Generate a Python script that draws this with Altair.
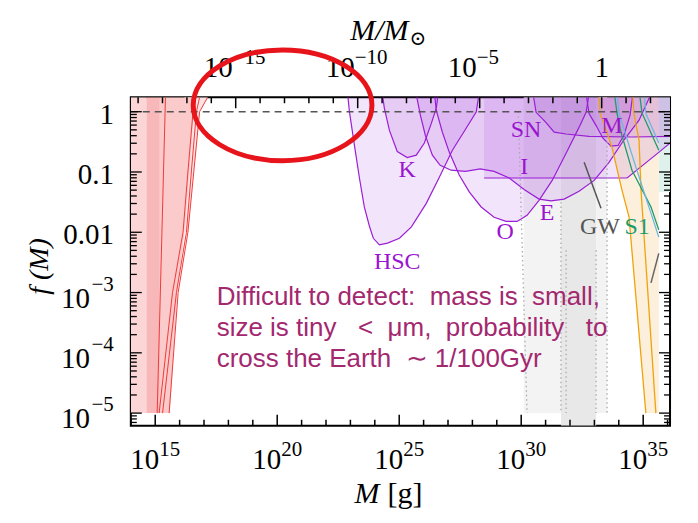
import altair as alt
import pandas as pd

MSUN = 1.989e33
X_LO, X_HI = 14.0, 36.1
Y_LO, Y_HI = -5.21, 0.24
W, H = 540, 329
SERIF = "Liberation Serif"

# ---------- data (log10 M [g], log10 f) ----------
hsc_lm = [22.90, 22.96, 23.17, 23.37, 23.57, 23.78, 23.94, 24.19, 24.52, 25.01, 25.50, 26.11, 26.64, 27.18, 27.75, 28.16, 28.25]
hsc_lf = [0.24, 0.0, -0.57, -1.10, -1.58, -1.90, -2.10, -2.21, -2.18, -2.10, -1.91, -1.52, -1.09, -0.64, -0.27, 0.0, 0.24]
k_lm = [24.33, 24.39, 24.60, 24.92, 25.33, 25.70, 26.03, 26.32, 26.52, 26.58]
k_lf = [0.24, 0.06, -0.31, -0.66, -0.76, -0.72, -0.52, -0.19, 0.06, 0.24]
o_lm = [26.46, 26.52, 26.77, 27.05, 27.46, 27.87, 28.36, 28.89, 29.38, 29.83, 30.24, 30.73, 31.27, 31.84, 32.37, 32.66, 32.76]
o_lf = [0.24, 0.02, -0.34, -0.67, -1.05, -1.33, -1.58, -1.75, -1.82, -1.82, -1.72, -1.47, -1.14, -0.69, -0.26, -0.01, 0.24]
e_lm = [25.72, 25.87, 26.07, 26.36, 26.68, 27.13, 27.71, 28.32, 28.89, 29.51, 30.12, 30.73, 31.22, 31.76, 32.37, 32.99, 33.60, 34.21, 34.83, 35.26]
e_lf = [0.24, -0.06, -0.39, -0.72, -0.89, -0.97, -0.99, -0.95, -0.99, -1.10, -1.29, -1.45, -1.48, -1.45, -1.32, -1.14, -0.84, -0.47, -0.14, 0.24]
i_lm = [28.48, 34.34, 35.65, 36.13]
i_lf = [-1.10, -1.10, -0.67, -0.51]
sn_lm = [30.51, 30.61, 31.02, 31.35, 31.84, 32.78, 34.54, 36.13]
sn_lf = [0.24, -0.01, -0.18, -0.34, -0.37, -0.41, -0.42, -0.41]
m_lm = [32.68, 32.78, 33.07, 33.35, 33.68, 33.97, 34.21, 34.46, 34.56]
m_lf = [0.24, -0.03, -0.23, -0.44, -0.57, -0.56, -0.39, -0.06, 0.24]

red_lf = [-5.0, -3.0, -2.0, -1.0, 0.0, 0.24]
red1_lm = [15.08, 15.42]
red1_lf = [-5.0, 0.24]
red2_lm = [15.16, 15.71, 16.14, 16.34, 16.55, 16.66]
red3_lm = [15.30, 15.87, 16.28, 16.48, 16.69, 16.82]
red4_lm = [15.57, 15.94, 16.34, 16.58, 16.82, 17.15]
# boundary of the medium pink region (log M, log f), left edge at 15.19
pinkC_lm = [15.19, 15.60, 15.90, 16.20, 16.40, 16.58, 16.66]
pinkC_lf = [-5.0, -5.0, -3.0, -2.0, -1.0, 0.0, 0.24]
pinkD_lm = [16.20, 16.34, 16.58, 16.82, 17.15]
pinkD_lf = [-2.0, -2.0, -1.0, 0.0, 0.24]

gw_lm, gw_lf = [32.58, 33.27], [-0.84, -1.60]
dg_lm, dg_lf = [35.64, 35.32], [-2.35, -2.84]
or1_lm = [33.19, 33.23, 33.72, 34.13, 34.42, 35.11]
or1_lf = [0.24, -0.02, -0.59, -1.30, -1.75, -5.0]
or2_lm = [34.58, 34.62, 34.83, 34.91, 35.52]
or2_lf = [0.24, -0.03, -0.47, -1.30, -5.0]
beige_edge = 35.64
gr1_lm = [33.84, 33.93, 34.09, 34.54, 35.32, 35.64]
gr1_lf = [0.24, -0.03, -0.34, -0.97, -1.58, -1.96]
gr2_lm, gr2_lf = [34.87, 34.95, 35.64], [0.24, -0.02, -0.64]
bl1_lm, bl1_lf = [33.95, 34.01, 34.70, 35.64], [0.24, -0.03, -0.92, -2.08]
bl2_lm, bl2_lf = [35.05, 35.11, 35.64], [0.24, -0.03, -0.52]

dot_lm = [[29.88, 30.24], [31.63, 31.63], [31.84, 31.84], [33.07, 33.07], [33.52, 33.52]]
dot_lf = [[0.0, -5.0], [-1.5, -5.0], [-2.3, -5.0], [-2.3, -5.0], [-0.42, -5.0]]

# rect bands: (x1, x2, y1, y2, colour) in log10
bands = [
    (14.0, 14.64, -5.0, 0.24, "#fcd6d6"),
    (14.64, 15.19, -5.0, 0.24, "#f8b8b9"),
    (30.1, 31.63, -5.0, 0.24, "#f3f3f3"),
    (31.63, 33.07, -5.21, 0.24, "#e8e8e8"),
    (33.07, 33.52, -5.0, 0.24, "#f3f3f3"),
    (35.64, 36.1, -1.33, 0.24, "#def2eb"),
]

labels = [("HSC", 24.92, -2.49, "#9a14d0"), ("K", 25.33, -0.97, "#9a14d0"),
          ("O", 29.34, -2.0, "#9a14d0"), ("I", 30.12, -0.92, "#9a14d0"),
          ("SN", 30.20, -0.31, "#9a14d0"), ("E", 31.06, -1.68, "#9a14d0"),
          ("M", 33.72, -0.23, "#9a14d0"), ("GW", 33.23, -1.91, "#555555"),
          ("S1", 34.75, -1.91, "#1e9b6e")]

NB = "\u00a0"
note_lines = ["Difficult to detect:" + NB * 2 + "mass" + NB + "is" + NB * 2 + "small,",
              "size is tiny" + NB * 3 + "<" + NB * 2 + "μm," + NB * 2 + "probability" + NB * 3 + "to",
              "cross the Earth" + NB * 2 + "∼" + NB + "1/100Gyr"]
note_lm = 17.52
note_lf = [-3.21, -3.72, -4.24]

xbot_ticks = list(range(14, 37))
xtop_ticks = list(range(-19, 3))
xbot_labels = [15, 20, 25, 30, 35]
xtop_labels = [-15, -10, -5]
y_major = [-5, -4, -3, -2, -1, 0]
y_labels_plain = [(0, "1"), (-1, "0.1"), (-2, "0.01")]
y_labels_pow = [-3, -4, -5]

# ---------- helpers ----------
xs = alt.Scale(type="log", domain=[10 ** X_LO, 10 ** X_HI], nice=False)
ys = alt.Scale(type="log", domain=[10 ** Y_LO, 10 ** Y_HI], nice=False)


def X(f="M"):
    return alt.X(f"{f}:Q", scale=xs, axis=None, stack=None)


def Y(f="f"):
    return alt.Y(f"{f}:Q", scale=ys, axis=None, stack=None)


def cdf(name, lm, lf, **extra):
    d = pd.DataFrame({"name": name, "i": range(len(lm)),
                      "M": [10 ** v for v in lm], "f": [10 ** v for v in lf],
                      "top": 10 ** Y_HI})
    for k, v in extra.items():
        d[k] = v
    return d


def sup(n):
    return str(n).replace("-", "\u2212")


layers = []

# bands
bdf = pd.DataFrame([{"x1": 10 ** a, "x2": 10 ** b, "y1": 10 ** c, "y2": 10 ** d, "c": col}
                    for a, b, c, d, col in bands])
layers.append(alt.Chart(bdf).mark_rect(clip=True).encode(
    x=X("x1"), x2="x2", y=Y("y1"), y2="y2", color=alt.Color("c:N", scale=None)))

# filled regions bounded above by the top of the plot
fills = pd.concat([
    cdf("pD", pinkD_lm, pinkD_lf, c="#fde4e4"),
    cdf("pC", pinkC_lm, pinkC_lf, c="#fbcaca"),
    cdf("bg", or1_lm + [beige_edge], or1_lf + [-5.0], c="#fcefdb"),
])
layers.append(alt.Chart(fills).mark_area(orient="vertical", clip=True).encode(
    x=X("M"), y=Y("f"), y2="top:Q", detail="name:N",
    color=alt.Color("c:N", scale=None)))

# purple areas
purple = pd.concat([cdf(n, a, b) for n, a, b in [
    ("hsc", hsc_lm, hsc_lf), ("k", k_lm, k_lf), ("o", o_lm, o_lf), ("e", e_lm, e_lf),
    ("i", i_lm, i_lf), ("sn", sn_lm, sn_lf), ("m", m_lm, m_lf)]])
layers.append(alt.Chart(purple).mark_area(orient="vertical", clip=True, color="#9b30d8",
                                          fillOpacity=0.13).encode(
    x=X("M"), y=Y("f"), y2="top:Q", detail="name:N"))

# solid lines
PUR = "#9a1ed6"
lines = pd.concat([
    cdf("hscL", hsc_lm, hsc_lf, c=PUR, w=1.2),
    cdf("kL", k_lm, k_lf, c=PUR, w=1.2),
    cdf("oL", o_lm, o_lf, c=PUR, w=1.2),
    cdf("eL", e_lm, e_lf, c=PUR, w=1.2),
    cdf("iL", i_lm, i_lf, c=PUR, w=1.2),
    cdf("snL", sn_lm, sn_lf, c=PUR, w=1.2),
    cdf("mL", m_lm, m_lf, c=PUR, w=1.2),
    cdf("r1", red1_lm, red1_lf, c="#f03a3a", w=1.0),
    cdf("r2", red2_lm, red_lf, c="#f03a3a", w=1.0),
    cdf("r3", red3_lm, red_lf, c="#f03a3a", w=1.0),
    cdf("r4", red4_lm, red_lf, c="#f03a3a", w=1.0),
    cdf("gw", gw_lm, gw_lf, c="#555555", w=1.5),
    cdf("dg", dg_lm, dg_lf, c="#666666", w=1.5),
    cdf("or1", or1_lm, or1_lf, c="#f0a30a", w=1.3),
    cdf("or2", or2_lm, or2_lf, c="#f0a30a", w=1.3),
    cdf("gr1", gr1_lm, gr1_lf, c="#1e9b6e", w=1.3),
    cdf("gr2", gr2_lm, gr2_lf, c="#1e9b6e", w=1.3),
    cdf("bl1", bl1_lm, bl1_lf, c="#6bb8e2", w=1.3),
    cdf("bl2", bl2_lm, bl2_lf, c="#6bb8e2", w=1.3),
])
layers.append(alt.Chart(lines).mark_line(clip=True).encode(
    x=X("M"), y=Y("f"), detail="name:N", order="i:Q",
    color=alt.Color("c:N", scale=None), strokeWidth=alt.StrokeWidth("w:Q", scale=None)))

# dotted lines
dots = pd.concat([cdf(f"d{j}", a, b) for j, (a, b) in enumerate(zip(dot_lm, dot_lf))])
layers.append(alt.Chart(dots).mark_line(clip=True, color="#aaaaaa", strokeWidth=1.3,
                                        strokeDash=[1.5, 3]).encode(
    x=X("M"), y=Y("f"), detail="name:N", order="i:Q"))

# dashed f = 1
dash = cdf("dash", [X_LO, X_HI], [0, 0])
layers.append(alt.Chart(dash).mark_line(clip=True, color="#555555", strokeWidth=1.5,
                                        strokeDash=[7, 5]).encode(x=X("M"), y=Y("f")))

# curve labels
ldf = pd.DataFrame([{"t": t, "M": 10 ** a, "f": 10 ** b, "c": c} for t, a, b, c in labels])
layers.append(alt.Chart(ldf).mark_text(font=SERIF, fontSize=24, baseline="middle").encode(
    x=X("M"), y=Y("f"), text="t:N", color=alt.Color("c:N", scale=None)))


# ---------- ticks ----------
def xticks(vals, at_top):
    out = []
    for major in (True, False):
        sel = [v for v in vals if (v[1] % 5 == 0) == major]
        if not sel:
            continue
        d = pd.DataFrame({"M": [v[0] for v in sel]})
        ln = 11 if major else 6
        if at_top:
            enc = dict(y=alt.value(0), y2=alt.value(ln))
        else:
            enc = dict(y=alt.value(H), y2=alt.value(H - ln))
        out.append(alt.Chart(d).mark_rule(color="black", strokeWidth=1.5).encode(x=X("M"), **enc))
    return out


layers += xticks([(10 ** k, k) for k in xbot_ticks], False)
layers += xticks([(MSUN * 10 ** k, k) for k in xtop_ticks], True)

ymaj = pd.DataFrame({"f": [10 ** k for k in y_major]})
ymin_vals = []
for k in range(-6, 1):
    for m in range(2, 10):
        v = m * 10 ** k
        if 10 ** Y_LO <= v <= 10 ** Y_HI:
            ymin_vals.append(v)
ymin = pd.DataFrame({"f": ymin_vals})
for d, ln in ((ymaj, 11), (ymin, 6)):
    layers.append(alt.Chart(d).mark_rule(color="black", strokeWidth=1.3).encode(
        y=Y("f"), x=alt.value(0), x2=alt.value(ln)))
    layers.append(alt.Chart(d).mark_rule(color="black", strokeWidth=1.3).encode(
        y=Y("f"), x=alt.value(W), x2=alt.value(W - ln)))

# ---------- tick labels ----------
BASE, EXP = 29, 21
bl = pd.DataFrame({"M": [10 ** k for k in xbot_labels], "e": [sup(k) for k in xbot_labels]})
layers.append(alt.Chart(bl).mark_text(font=SERIF, fontSize=BASE, align="right", dx=4,
                                      baseline="alphabetic", color="black").encode(
    x=X("M"), y=alt.value(H + 43), text=alt.value("10")))
layers.append(alt.Chart(bl).mark_text(font=SERIF, fontSize=EXP, align="left", dx=4,
                                      baseline="alphabetic", color="black").encode(
    x=X("M"), y=alt.value(H + 30), text="e:N"))

tl = pd.DataFrame({"M": [MSUN * 10 ** k for k in xtop_labels], "e": [sup(k) for k in xtop_labels]})
layers.append(alt.Chart(tl).mark_text(font=SERIF, fontSize=BASE, align="right", dx=-3,
                                      baseline="alphabetic", color="black").encode(
    x=X("M"), y=alt.value(-20), text=alt.value("10")))
layers.append(alt.Chart(tl).mark_text(font=SERIF, fontSize=EXP, align="left", dx=-3,
                                      baseline="alphabetic", color="black").encode(
    x=X("M"), y=alt.value(-33), text="e:N"))
one = pd.DataFrame({"M": [MSUN]})
layers.append(alt.Chart(one).mark_text(font=SERIF, fontSize=BASE, align="center",
                                       baseline="alphabetic", color="black").encode(
    x=X("M"), y=alt.value(-20), text=alt.value("1")))

yp = pd.DataFrame({"f": [10 ** v for v, _ in y_labels_plain], "t": [t for _, t in y_labels_plain]})
layers.append(alt.Chart(yp).mark_text(font=SERIF, fontSize=BASE, align="right", dy=3,
                                      baseline="middle", color="black").encode(
    y=Y("f"), x=alt.value(-17), text="t:N"))
ypw = pd.DataFrame({"f": [10 ** v for v in y_labels_pow], "e": [sup(v) for v in y_labels_pow]})
layers.append(alt.Chart(ypw).mark_text(font=SERIF, fontSize=BASE, align="right", dy=6,
                                       baseline="middle", color="black").encode(
    y=Y("f"), x=alt.value(-41), text=alt.value("10")))
layers.append(alt.Chart(ypw).mark_text(font=SERIF, fontSize=EXP, align="right", dy=-8,
                                       baseline="middle", color="black").encode(
    y=Y("f"), x=alt.value(-17), text="e:N"))

# ---------- axis titles ----------
t0 = pd.DataFrame({"a": [0]})
layers.append(alt.Chart(t0).mark_text(font=SERIF, fontSize=30, fontStyle="italic", align="right",
                                      baseline="alphabetic", color="black").encode(
    x=alt.value(249), y=alt.value(H + 77), text=alt.value("M")))
layers.append(alt.Chart(t0).mark_text(font=SERIF, fontSize=30, align="left",
                                      baseline="alphabetic", color="black").encode(
    x=alt.value(257), y=alt.value(H + 77), text=alt.value("[g]")))
layers.append(alt.Chart(t0).mark_text(font=SERIF, fontSize=30, fontStyle="italic", align="right",
                                      baseline="alphabetic", color="black").encode(
    x=alt.value(278), y=alt.value(-57), text=alt.value("M/M")))
layers.append(alt.Chart(t0).mark_text(font="DejaVu Serif", fontSize=20, align="left",
                                      baseline="alphabetic", color="black").encode(
    x=alt.value(279), y=alt.value(-52), text=alt.value("\u2299")))
layers.append(alt.Chart(t0).mark_text(font=SERIF, fontSize=28, fontStyle="italic", angle=270,
                                      align="center", baseline="middle", color="black").encode(
    x=alt.value(-91), y=alt.value(H / 2 + 5), text=alt.value("f (M)")))

# ---------- annotation ----------
ndf = pd.DataFrame({"t": note_lines, "M": 10 ** note_lm, "f": [10 ** v for v in note_lf]})
layers.append(alt.Chart(ndf).mark_text(font="Liberation Sans", fontSize=26, align="left",
                                       baseline="alphabetic", color="#a3286f").encode(
    x=X("M"), y=Y("f"), text="t:N"))

# red ellipse
edf = pd.DataFrame({"M": [10 ** 20.22], "f": [10 ** 0.106]})
layers.append(alt.Chart(edf).mark_point(
    shape="M -1 0 A 1 0.62 0 1 0 1 0 A 1 0.62 0 1 0 -1 0 Z", size=32041,
    filled=False, stroke="#e8141c", strokeWidth=5, opacity=1).encode(x=X("M"), y=Y("f")))

chart = alt.layer(*layers).properties(
    width=W, height=H,
    autosize=alt.AutoSizeParams(type="none"),
    padding={"left": 123, "top": 89, "right": 20, "bottom": 90},
    background="white",
).configure_view(stroke="black", strokeWidth=2)

chart.save("out.html", embed_options={"renderer": "svg", "actions": False})
